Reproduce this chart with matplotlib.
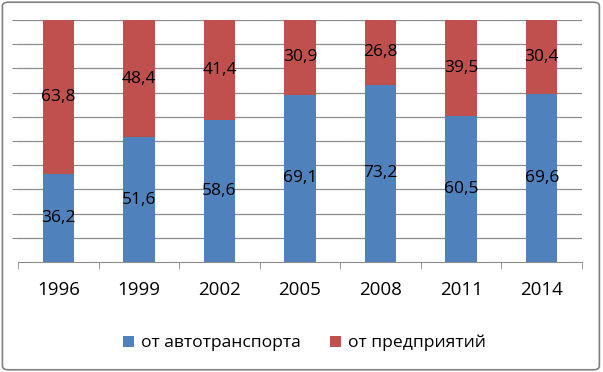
import matplotlib.pyplot as plt
import numpy as np
from matplotlib.patches import FancyBboxPatch

years = ['1996', '1999', '2002', '2005', '2008', '2011', '2014']
auto = [36.2, 51.6, 58.6, 69.1, 73.2, 60.5, 69.6]
plants = [63.8, 48.4, 41.4, 30.9, 26.8, 39.5, 30.4]
auto_labels = ['36,2', '51,6', '58,6', '69,1', '73,2', '60,5', '69,6']
plant_labels = ['63,8', '48,4', '41,4', '30,9', '26,8', '39,5', '30,4']

plt.rcParams['font.family'] = ['Open Sans', 'DejaVu Sans']

blue = '#4f81bd'
red = '#c0504d'

fig = plt.figure(figsize=(6.03, 3.72), dpi=100)
ax = fig.add_axes([18 / 603, 1 - 262 / 372, 564 / 603, 242 / 372])

x = np.arange(len(years))
ax.bar(x, auto, width=0.39, color=blue, zorder=2, label='от автотранспорта')
ax.bar(x, plants, width=0.39, bottom=auto, color=red, zorder=2, label='от предприятий')

for i in range(len(years)):
    ax.text(x[i], auto[i] / 2, auto_labels[i], ha='center', va='center',
            fontsize=12.5, color='black', zorder=3)
    ax.text(x[i], auto[i] + plants[i] / 2, plant_labels[i], ha='center', va='center',
            fontsize=12.5, color='black', zorder=3)

ax.set_xlim(-0.5, len(years) - 0.5)
ax.set_ylim(0, 100)
ax.set_yticks(np.arange(10, 101, 10))
ax.set_yticklabels([])
ax.yaxis.grid(True, color='#8c8c8c', linewidth=0.9, zorder=0)
ax.tick_params(axis='y', length=4, color='#8c8c8c', direction='out')

ax.set_xticks(x)
ax.set_xticklabels(years, fontsize=13.5)
ax.tick_params(axis='x', length=0, pad=14)
ax.set_xticks(np.arange(-0.5, len(years), 1), minor=True)
ax.tick_params(axis='x', which='minor', length=5, color='#8c8c8c')

for side in ['top', 'right', 'left']:
    ax.spines[side].set_visible(False)
ax.spines['bottom'].set_color('#8c8c8c')

fig.legend(loc='center', bbox_to_anchor=(0.505, 1 - 343 / 372), ncol=2, frameon=False,
           fontsize=12.6, handlelength=0.6, handleheight=0.6, columnspacing=1.7,
           handletextpad=0.4)

frame = FancyBboxPatch((0.004, 0.006), 0.99, 0.988, boxstyle='round,pad=0,rounding_size=0.01',
                       transform=fig.transFigure, fill=False, edgecolor='#808080',
                       linewidth=1.2)
fig.patches.append(frame)

fig.savefig('out.png', dpi=100)
